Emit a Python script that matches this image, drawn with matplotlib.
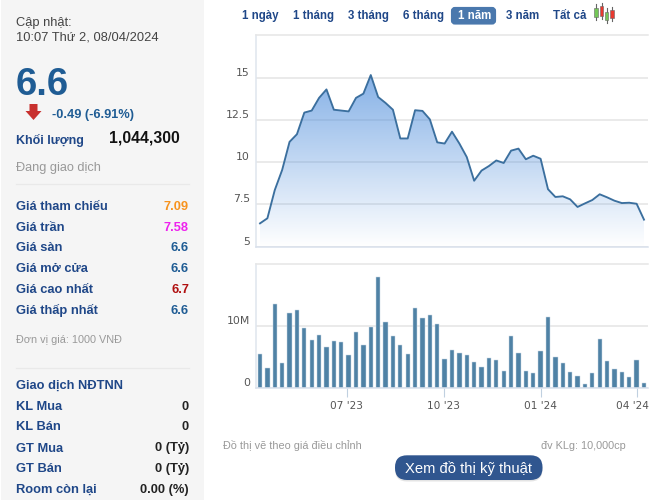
import numpy as np
import pandas as pd
import matplotlib
matplotlib.use("Agg")
import matplotlib.pyplot as plt
import matplotlib.dates as mdates
from matplotlib.patches import FancyBboxPatch, Rectangle, Polygon
from matplotlib.transforms import ScaledTranslation

# Weekly closing prices (thousand VND) and traded volume (millions of shares)
prices = [6.38, 6.68, 8.35, 9.54, 11.2, 11.65, 12.93, 13.05, 13.8, 14.3,
          13.1, 13.05, 13.0, 13.8, 14.05, 15.15, 13.85, 13.5, 13.1, 11.4,
          11.4, 13.07, 13.03, 12.53, 11.17, 11.1, 11.8, 11.1, 10.3, 8.9,
          9.5, 9.77, 10.1, 9.95, 10.68, 10.8, 10.17, 10.38, 10.2, 8.4,
          7.94, 7.98, 7.8, 7.35, 7.56, 7.76, 8.1, 7.92, 7.72, 7.58,
          7.6, 7.54, 6.6]
volumes = [5.5, 3.24, 13.57, 4.05, 12.16, 12.6, 9.73, 7.78, 8.6, 6.65,
           7.62, 7.46, 5.35, 9.08, 6.97, 9.9, 17.95, 10.7, 8.43, 6.97,
           5.5, 12.9, 11.35, 11.8, 10.38, 4.7, 6.16, 5.68, 5.35, 4.2,
           3.4, 4.86, 4.54, 2.76, 8.43, 5.68, 2.76, 2.43, 6.0, 11.5,
           5.03, 4.05, 2.6, 1.95, 0.7, 2.43, 7.95, 4.38, 3.08, 2.6,
           1.78, 4.54, 0.81]
dates = pd.date_range(end="2024-04-08", periods=len(prices), freq="7D")

price_ticks = [5, 7.5, 10, 12.5, 15]
price_tick_labels = ["5", "7.5", "10", "12.5", "15"]
volume_ticks = [0, 10]
volume_tick_labels = ["0", "10M"]
date_ticks = ["2023-07-01", "2023-10-01", "2024-01-01", "2024-04-01"]
date_tick_labels = ["07 '23", "10 '23", "01 '24", "04 '24"]

range_buttons = [("1 ngày", 242), ("1 tháng", 293), ("3 tháng", 348),
                 ("6 tháng", 403), ("3 năm", 505.7), ("Tất cả", 553.3)]

NAVY = "#1f4788"
BLUE = "#1f5c94"
GREY = "#999999"
SANS = "Liberation Sans"

W, H = 657, 500
fig = plt.figure(figsize=(W / 100, H / 100), dpi=100, facecolor="white")


def axes_px(left, top, right, bottom):
    """Create axes from pixel edges measured from the top-left corner."""
    return fig.add_axes([left / W, 1 - bottom / H, (right - left) / W, (bottom - top) / H])


# Full-figure layer in pixel coordinates for the side panel and captions
page = fig.add_axes([0, 0, 1, 1], zorder=0)
page.set_xlim(0, W)
page.set_ylim(H, 0)
page.axis("off")


def txt(x, y, s, size=10, color="black", weight="normal", ha="left"):
    page.text(x, y, s, fontsize=size, color=color, fontweight=weight, ha=ha,
              va="baseline", family=SANS)


page.add_patch(Rectangle((1, 0), 203, H, fc="#f5f5f5", ec="none"))
for y in (184, 368):
    page.plot([16, 189], [y, y], color="#e9e9e9", lw=0.9)

txt(16, 26, "Cập nhật:", 9.3, "#444444")
txt(16, 40.7, "10:07 Thứ 2, 08/04/2024", 9.3, "#444444")
txt(15.5, 95, "6.6", 27.6, BLUE, "bold")
page.add_patch(Polygon([(29.5, 104), (37.5, 104), (37.5, 111), (41.5, 111),
                        (33.5, 120), (25.5, 111), (29.5, 111)],
                       fc="#c8302e", ec="none"))
txt(52.3, 117.7, "-0.49 (-6.91%)", 9.2, BLUE, "bold")
txt(16, 144, "Khối lượng", 9.0, NAVY, "bold")
txt(179.7, 142.7, "1,044,300", 11.3, "#111111", "bold", "right")
txt(16, 170.7, "Đang giao dịch", 9.2, GREY)

rows = [("Giá tham chiếu", "7.09", "#f7931e", 209.7),
        ("Giá trần", "7.58", "#ee22ee", 230.7),
        ("Giá sàn", "6.6", BLUE, 251),
        ("Giá mở cửa", "6.6", BLUE, 272.3),
        ("Giá cao nhất", "6.7", "#b01010", 293),
        ("Giá thấp nhất", "6.6", BLUE, 314)]
for label, value, colour, y in rows:
    txt(16, y, label, 9.3, NAVY, "bold")
    txt(189, y, value, 9.3, colour, "bold", "right")
txt(16, 343, "Đơn vị giá: 1000 VNĐ", 7.8, GREY)

txt(16, 388.7, "Giao dịch NĐTNN", 9.3, NAVY, "bold")
foreign = [("KL Mua", "0", 409.7), ("KL Bán", "0", 430.5), ("GT Mua", "0 (Tỷ)", 451.5),
           ("GT Bán", "0 (Tỷ)", 472), ("Room còn lại", "0.00 (%)", 492.5)]
for label, value, y in foreign:
    txt(16, y, label, 9.3, NAVY, "bold")
    txt(189, y, value, 9.3, "#222222", "bold", "right")

# Range selector above the chart
for label, x in range_buttons:
    txt(x, 19, label, 8.3, NAVY, "bold")
page.add_patch(FancyBboxPatch((453, 9), 41, 13.5, boxstyle="round,pad=0,rounding_size=2",
                              mutation_aspect=1, fc="#4a78ad", ec="#4a78ad", lw=3))
txt(458, 19, "1 năm", 8.3, "white", "bold")

# Small candlestick icon next to the selector
for x, y0, y1, wick0, wick1, colour in [(596, 8, 17, 4, 20, "#74c757"),
                                        (601.5, 6, 16, 3, 19, "#e8392f"),
                                        (606.7, 12, 20, 8, 23, "#74c757"),
                                        (612, 10, 18, 7, 21, "#e8392f")]:
    page.plot([x, x], [wick0, wick1], color="#666666", lw=0.8)
    page.add_patch(Rectangle((x - 1.7, y0), 3.4, y1 - y0, fc=colour, ec="#666666", lw=0.4, zorder=3))

# Captions and the technical-chart button
txt(223.3, 449, "Đồ thị vẽ theo giá điều chỉnh", 7.8, GREY)
txt(626, 449, "đv KLg: 10,000cp", 7.8, GREY, ha="right")
page.add_patch(FancyBboxPatch((395, 456.5), 147.5, 25, boxstyle="round,pad=0,rounding_size=12",
                              fc="#e4e4e4", ec="none"))
page.add_patch(FancyBboxPatch((395, 455.3), 147.5, 24.7, boxstyle="round,pad=0,rounding_size=12",
                              fc="#30568f", ec="none"))
page.text(468.8, 472.7, "Xem đồ thị kỹ thuật", fontsize=10.6, color="white", ha="center",
          va="baseline", family=SANS)

x_num = mdates.date2num(dates)
pad_days = 3.8
x_limits = (x_num[0] - pad_days, x_num[-1] + pad_days)


def style_chart(ax, ticks, labels, y_limits):
    ax.set_facecolor("none")
    ax.set_xlim(*x_limits)
    ax.set_ylim(*y_limits)
    ax.set_yticks(ticks, labels)
    ax.grid(axis="y", color="#e4e4e4", lw=1.1, zorder=0)
    ax.set_axisbelow(True)
    ax.spines["right"].set_visible(False)
    ax.spines["top"].set_color("#e6e6e6")
    ax.spines["top"].set_linewidth(1.1)
    ax.spines["left"].set_color("#dfe5ee")
    ax.spines["left"].set_linewidth(1.1)
    ax.spines["bottom"].set_color("#d8e0ec")
    ax.spines["bottom"].set_linewidth(1.1)
    ax.tick_params(axis="y", length=0, pad=4.5, labelsize=7.8, labelcolor="#555555")
    # Value labels sit just above their gridlines
    lift = ScaledTranslation(0, 6 / 100, fig.dpi_scale_trans)
    for label in ax.get_yticklabels():
        label.set_transform(label.get_transform() + lift)


# Price panel: line over a vertical gradient fill
ax_price = axes_px(256, 35.3, 648, 246.7)
style_chart(ax_price, price_ticks, price_tick_labels, (5, 17.5))
ax_price.set_xticks([])

gradient = np.zeros((256, 2, 4))
gradient[..., 0] = 0.30
gradient[..., 1] = 0.55
gradient[..., 2] = 0.86
gradient[..., 3] = np.linspace(0.68, 0.0, 256)[:, None]
image = ax_price.imshow(gradient, extent=(x_num[0], x_num[-1], 5, max(prices)), origin="upper",
                        aspect="auto", zorder=1, interpolation="bilinear")
clip = Polygon(np.column_stack([np.r_[x_num, x_num[-1], x_num[0]],
                                np.r_[prices, 5, 5]]),
               transform=ax_price.transData, fc="none", ec="none")
ax_price.add_patch(clip)
image.set_clip_path(clip)
ax_price.set_xlim(*x_limits)
ax_price.set_ylim(5, 17.5)
ax_price.plot(x_num, prices, color="#3b6f9e", lw=1.35, zorder=3, solid_joinstyle="round")

# Volume panel
ax_vol = axes_px(256, 264, 648, 388)
style_chart(ax_vol, volume_ticks, volume_tick_labels, (0, 20.1))
ax_vol.bar(x_num, volumes, width=4.1, color="#4f82a5", edgecolor="#c9d8e6", linewidth=0.35, zorder=2)
ax_vol.set_xticks(mdates.date2num(pd.to_datetime(date_ticks)), date_tick_labels)
ax_vol.tick_params(axis="x", length=6.5, width=0.8, color="#c0d0e0", pad=3,
                   labelsize=7.6, labelcolor="#555555")
# The last date label is nudged left so it stays inside the frame
last = ax_vol.get_xticklabels()[-1]
last.set_transform(last.get_transform() + ScaledTranslation(-4.5 / 100, 0, fig.dpi_scale_trans))

fig.savefig("out.png", dpi=100)
